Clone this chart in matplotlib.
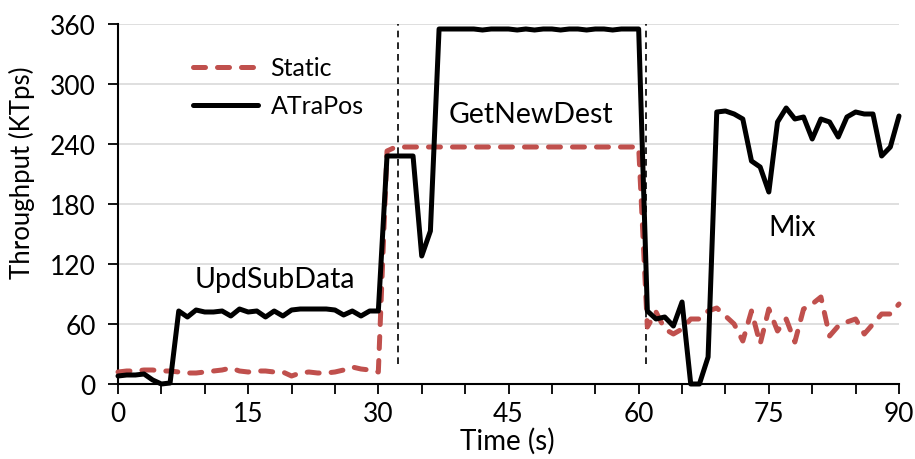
import matplotlib
matplotlib.use("Agg")
import matplotlib.pyplot as plt

plt.rcParams['font.family'] = ['Lato', 'DejaVu Sans']

# Time axis (seconds), one sample per second
time_s = list(range(0, 91))

# Static partitioning throughput (KTps)
static = [12, 13, 13, 14, 14, 13, 13, 12, 11, 11,
          12, 13, 14, 16, 13, 12, 13, 13, 12, 12,
          8, 11, 12, 11, 11, 12, 14, 17, 15, 14,
          12, 233, 237, 237, 237, 237, 237, 237, 237, 237,
          237, 237, 237, 237, 237, 237, 237, 237, 237, 237,
          237, 237, 237, 237, 237, 237, 237, 237, 237, 237,
          237, 57, 72, 55, 50, 55, 65, 65, 73, 76,
          68, 60, 43, 73, 40, 75, 53, 65, 42, 75,
          80, 87, 48, 58, 62, 65, 50, 60, 70, 70,
          80]

# ATraPos throughput (KTps)
atrapos = [8, 9, 9, 10, 4, 0, 1, 73, 67, 74,
           72, 72, 73, 68, 75, 72, 73, 67, 73, 68,
           74, 75, 75, 75, 75, 74, 69, 73, 68, 73,
           73, 228, 228, 228, 228, 128, 153, 355, 355, 355,
           355, 355, 354, 355, 355, 355, 354, 355, 354, 355,
           355, 354, 355, 355, 354, 355, 355, 354, 355, 355,
           355, 73, 65, 67, 58, 82, 0, 0, 27, 272,
           273, 270, 265, 223, 217, 192, 262, 276, 265, 267,
           245, 265, 262, 247, 267, 272, 270, 270, 228, 237,
           268]

# Workload phase boundaries (s) and labels
phase_changes = [32.3, 60.9]
phase_labels = ["UpdSubData", "GetNewDest", "Mix"]
phase_label_pos = [(18.1, 105), (47.6, 270), (77.7, 157)]

x_major = [0, 15, 30, 45, 60, 75, 90]
x_minor = list(range(0, 91, 5))
y_ticks = [0, 60, 120, 180, 240, 300, 360]

red = "#C0504D"

fig = plt.figure(figsize=(9.15, 4.6), dpi=100)
ax = fig.add_axes([118 / 915, 1 - 385 / 460, 781 / 915, 360 / 460])

ax.set_xlim(0, 90)
ax.set_ylim(0, 360)

for y in y_ticks[1:]:
    ax.axhline(y, color="#d9d9d9", lw=1.2, zorder=0)

for xc in phase_changes:
    ax.plot([xc, xc], [20, 363], color="black", lw=1.2,
            linestyle=(0, (4, 3)), zorder=2)

ax.plot(time_s, static, color=red, lw=3.6, linestyle=(0, (2.4, 2.4)),
        dash_capstyle="round", solid_joinstyle="round", label="Static",
        zorder=3, clip_on=False)
ax.plot(time_s, atrapos, color="black", lw=3.6, solid_joinstyle="round",
        solid_capstyle="round", label="ATraPos", zorder=4, clip_on=False)

for txt, (px, py) in zip(phase_labels, phase_label_pos):
    ax.text(px, py, txt, ha="center", va="center", fontsize=20.5)

ax.set_xticks(x_major)
ax.set_xticks(x_minor, minor=True)
ax.set_yticks(y_ticks)
ax.tick_params(axis="both", which="both", direction="out", length=7,
               width=1.3, labelsize=19, color="black")
ax.tick_params(axis="y", pad=9)
ax.tick_params(axis="x", pad=5)

for side in ("top", "right"):
    ax.spines[side].set_visible(False)
for side in ("left", "bottom"):
    ax.spines[side].set_linewidth(1.5)

fig.text(22 / 915, 1 - 173 / 460, "Throughput (KTps)", rotation=90,
         ha="center", va="center", fontsize=18.5)
fig.text(507 / 915, 1 - 441 / 460, "Time (s)", ha="center", va="center",
         fontsize=20)

ax.legend(loc="upper left", bbox_to_anchor=(0.096, 0.91), frameon=False,
          borderaxespad=0, borderpad=0, handlelength=2.6,
          handletextpad=0.5, labelspacing=0.6, fontsize=18)

fig.savefig("out.png", dpi=100)
